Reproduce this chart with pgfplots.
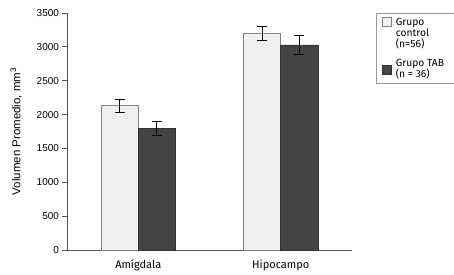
\documentclass[border=0pt]{standalone}
\usepackage{fontspec}
\setmainfont{Liberation Sans}
\newfontfamily\hum{Fira Sans}
\usepackage{pgfplots}
\pgfplotsset{compat=1.18}
\definecolor{lightbar}{HTML}{F0F0F0}
\definecolor{darkbar}{HTML}{444444}
\definecolor{axgray}{HTML}{555555}
\pgfplotsset{
  legA/.style={legend image code/.code={\draw[##1, line width=0.6pt] (0pt,7.5pt) rectangle (9pt,16.5pt);}},
  legB/.style={legend image code/.code={\draw[##1, line width=0.6pt] (0pt,-5pt) rectangle (9pt,4pt);}},
}
\begin{document}
\begin{tikzpicture}
\begin{axis}[
  name=ax, at={(0,0)}, anchor=south west,
  scale only axis, width=285pt, height=237pt,
  xmin=-0.5, xmax=1.5, ymin=0, ymax=3500,
  axis x line*=bottom, axis y line*=left,
  xtick={0,1}, xticklabels={Amígdala,Hipocampo},
  x tick label style={font=\hum\fontsize{11}{13}\selectfont, yshift=-2pt},
  major x tick style={draw=none},
  ytick={0,500,...,3500},
  y tick label style={font=\fontsize{10}{12}\selectfont},
  /pgf/number format/1000 sep={}, /pgf/number format/assume math mode=true,
  tick align=outside, major tick length=4.5pt,
  tick style={axgray, line width=0.8pt},
  axis line style={axgray, line width=0.9pt},
  ylabel={Volumen Promedio, mm\textsuperscript{3}},
  ylabel style={font=\fontsize{11.5}{13}\selectfont},
  ylabel shift=8pt,
  legend style={at={(1.084,1)}, anchor=north west, draw=gray!80, line width=0.6pt,
    font=\hum\fontsize{10.3}{11}\selectfont, row sep=6pt, inner xsep=6pt, inner ysep=3pt,
    column sep=2pt},
  legend cell align=left,
  error bars/error bar style={black, line width=0.6pt},
  error bars/error mark options={rotate=90, mark size=5pt, black, line width=0.6pt},
]
\addplot[ybar, bar width=0.26, bar shift=0pt, fill=lightbar, draw=gray, line width=0.6pt,
  legA, error bars/.cd, y dir=both, y explicit]
  coordinates {(-0.13,2130) +- (0,90) (0.87,3200) +- (0,110)};
\addlegendentry[align=left]{Grupo\hspace*{40pt}\\control\\(n=56)}
\addplot[ybar, bar width=0.26, bar shift=0pt, fill=darkbar, draw=black!80, line width=0.6pt,
  legB, error bars/.cd, y dir=both, y explicit]
  coordinates {(0.13,1800) +- (0,100) (1.13,3030) +- (0,135)};
\addlegendentry[align=left]{Grupo TAB\\(n = 36)}
\end{axis}
\pgfresetboundingbox
\path (-67pt,-24pt) rectangle (387pt,250pt);
\end{tikzpicture}
\end{document}
